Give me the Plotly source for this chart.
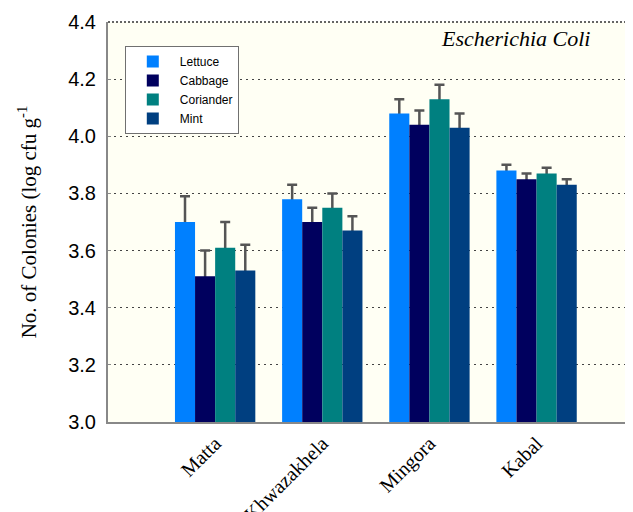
import plotly.graph_objects as go

sites = ["Matta", "Khwazakhela", "Mingora", "Kabal"]
series = ["Lettuce", "Cabbage", "Coriander", "Mint"]
colors = ["#0080FF", "#00005E", "#008080", "#003F80"]

lettuce = [3.70, 3.78, 4.08, 3.88]
cabbage = [3.51, 3.70, 4.04, 3.85]
coriander = [3.61, 3.75, 4.13, 3.87]
mint = [3.53, 3.67, 4.03, 3.83]

lettuce_err = [0.09, 0.05, 0.05, 0.02]
cabbage_err = [0.09, 0.05, 0.05, 0.02]
coriander_err = [0.09, 0.05, 0.05, 0.02]
mint_err = [0.09, 0.05, 0.05, 0.02]

values = [lettuce, cabbage, coriander, mint]
errors = [lettuce_err, cabbage_err, coriander_err, mint_err]

fig = go.Figure()
# error bars (drawn underneath, lower half hidden by the bars)
for name, v, e in zip(series, values, errors):
    fig.add_trace(go.Bar(
        x=sites, y=v, name=name, showlegend=False, hoverinfo="skip",
        marker=dict(color="rgba(0,0,0,0)", line=dict(width=0)),
        error_y=dict(type="data", array=e, symmetric=True,
                     color="#555555", thickness=2.5, width=5),
        xaxis="x", yaxis="y",
    ))
# coloured bars on top
for name, col, v in zip(series, colors, values):
    fig.add_trace(go.Bar(
        x=sites, y=v, name=name, marker=dict(color=col, line=dict(width=0)),
        xaxis="x", yaxis="y2",
    ))

fig.update_layout(
    width=625, height=504,
    margin=dict(l=100, r=0, t=14, b=90, autoexpand=False),
    paper_bgcolor="white", plot_bgcolor="#FFFFF4",
    barmode="group", bargap=0.25, bargroupgap=0,
    showlegend=True,
    legend=dict(x=0.032, y=0.94, xanchor="left", yanchor="top",
                bgcolor="white", bordercolor="#707070", borderwidth=1,
                font=dict(family="Liberation Sans, Arial", size=12, color="black"),
                itemwidth=44, tracegroupgap=0),
    xaxis=dict(range=[-1, 3.9], showgrid=False, showline=True, linecolor="#888888",
               linewidth=2, tickangle=-45, ticks="", automargin=False,
               tickfont=dict(family="Liberation Serif, Times New Roman", size=20, color="black")),
    yaxis=dict(range=[3.0, 4.4], dtick=0.2, tickformat=".1f", showgrid=True,
               gridcolor="#444444", griddash="2px,4px", gridwidth=1, showline=True,
               linecolor="#888888", linewidth=2, ticks="inside", ticklen=3, tickcolor="#888888",
               zeroline=False, automargin=False, ticklabelstandoff=6,
               tickfont=dict(family="Liberation Sans, Arial", size=20, color="black"),
               title=dict(text="No. of Colonies (log cfu g<sup>-1</sup>", standoff=26,
                          font=dict(family="Liberation Serif, Times New Roman", size=21, color="black"))),
    yaxis2=dict(range=[3.0, 4.4], overlaying="y", visible=False, showgrid=False),
    annotations=[dict(text="<i>Escherichia Coli</i>", xref="paper", yref="paper",
                      x=0.777, y=0.96, xanchor="center", yanchor="middle", showarrow=False,
                      font=dict(family="Liberation Serif, Times New Roman", size=22, color="black"))],
    shapes=[dict(type="line", xref="paper", yref="paper", x0=0, x1=1, y0=1, y1=1,
                 line=dict(color="#333333", width=1.5, dash="2px,2px"))],
)

fig.write_html("out.html")
